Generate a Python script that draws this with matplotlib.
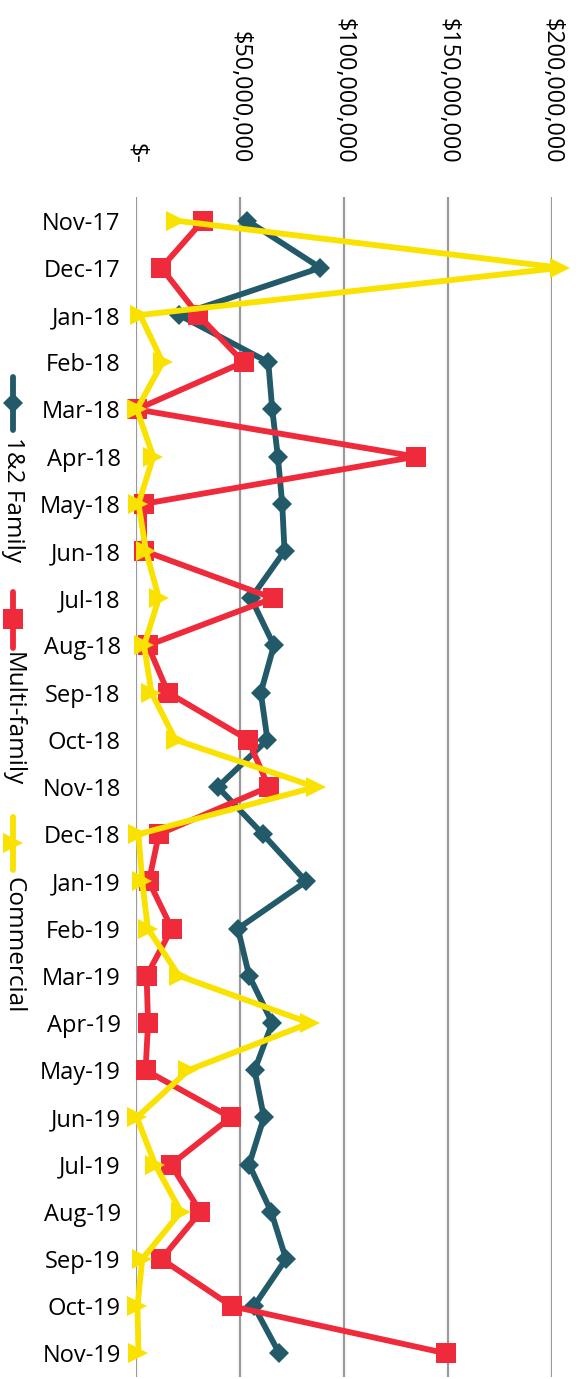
import matplotlib
matplotlib.use("Agg")
import matplotlib.pyplot as plt
from matplotlib.lines import Line2D

plt.rcParams['font.family'] = ['Open Sans', 'DejaVu Sans']

months = ["Nov-17", "Dec-17", "Jan-18", "Feb-18", "Mar-18", "Apr-18", "May-18",
          "Jun-18", "Jul-18", "Aug-18", "Sep-18", "Oct-18", "Nov-18", "Dec-18",
          "Jan-19", "Feb-19", "Mar-19", "Apr-19", "May-19", "Jun-19", "Jul-19",
          "Aug-19", "Sep-19", "Oct-19", "Nov-19"]

# values in millions of dollars
family_12 = [53.5, 88.6, 20.7, 63.6, 65.5, 68.2, 70.3, 71.4, 55.3, 66.3, 60.0,
             63.2, 39.3, 61.0, 81.8, 49.0, 54.4, 65.5, 57.0, 61.5, 54.4, 65.0,
             72.1, 56.7, 68.9]
multi_family = [32.2, 12.2, 29.9, 51.7, 0.3, 134.6, 3.9, 3.9, 65.9, 5.7, 15.4,
                53.9, 63.8, 11.0, 6.2, 17.2, 5.1, 5.8, 4.6, 45.5, 16.8, 31.0,
                12.2, 46.0, 149.2]
commercial = [19.0, 204.0, 2.0, 12.8, 0.4, 8.3, 1.2, 4.8, 11.0, 3.9, 7.4, 19.0,
              86.3, 1.2, 3.0, 5.7, 20.7, 83.6, 25.2, 0.4, 9.2, 21.6, 3.0, 0.7,
              1.2]

tick_values = [0, 50, 100, 150, 200]
tick_labels = ["$-", "$50,000,000", "$100,000,000", "$150,000,000", "$200,000,000"]

series_names = ["1&2 Family", "Multi-family", "Commercial"]
colors = ["#225A69", "#EE2A3B", "#F9E200"]
markers = ["D", "s", ">"]
msizes = [9.8, 14.4, 14.4]

W, H = 579, 1379
fig = plt.figure(figsize=(W / 100, H / 100), dpi=100)
ax = fig.add_axes([136 / W, (H - 1377) / H, 416 / W, 1180 / H])

idx = list(range(len(months)))
for vals, c, m, ms in zip([family_12, multi_family, commercial], colors, markers, msizes):
    ax.plot(vals, idx, color=c, lw=4.2, marker=m, markersize=ms,
            markeredgewidth=0, clip_on=False, solid_joinstyle='miter', zorder=3)

ax.set_xlim(0, 200)
ax.set_ylim(len(months) - 0.5, -0.5)
ax.set_xticks(tick_values)
ax.set_xticklabels(tick_labels)
ax.xaxis.tick_top()
ax.tick_params(axis='x', length=0, pad=24, labelsize=16.8, labelrotation=-90,
               colors='black')
for lab in ax.get_xticklabels():
    lab.set_va('bottom')
ax.set_yticks(idx)
ax.set_yticklabels(months)
ax.tick_params(axis='y', length=0, pad=11, labelsize=17)
ax.grid(axis='x', color='#9A9A9A', lw=1.6, zorder=0)
ax.set_axisbelow(True)
for s in ax.spines.values():
    s.set_visible(False)

# manual rotated legend
leg = [(377, 430, 403, 437), (592, 648, 619, 652), (817, 870, 843, 877)]
for (y0, y1, ym, yt), name, c, m, ms in zip(leg, series_names, colors, markers, msizes):
    fig.add_artist(Line2D([13 / W, 13 / W], [1 - y0 / H, 1 - y1 / H],
                          color=c, lw=4.2, solid_capstyle='round'))
    fig.add_artist(Line2D([13 / W], [1 - ym / H], color=c, marker=m,
                          markersize=ms, markeredgewidth=0, lw=0))
    fig.text(13 / W, 1 - yt / H, name, rotation=-90, ha='center', va='top',
             fontsize=17.5)

fig.savefig("out.png", dpi=100)
